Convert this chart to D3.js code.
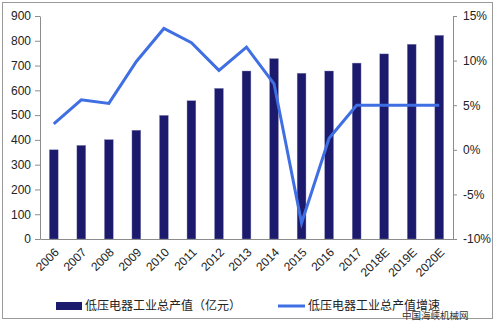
<!DOCTYPE html>
<html>
<head>
<meta charset="utf-8">
<script src="https://cdn.jsdelivr.net/npm/d3@7"></script>
<style>
  html, body { margin: 0; padding: 0; background: #fff; }
  svg { display: block; }
</style>
</head>
<body>
<svg id="chart" width="495" height="322"></svg>
<script>
// Low-voltage electrical output (100M yuan) and its growth rate
const years = ["2006","2007","2008","2009","2010","2011","2012","2013","2014","2015","2016","2017","2018E","2019E","2020E"];
const outputValues = [360, 378, 401, 439, 499, 558, 608, 678, 728, 669, 678, 710, 747, 786, 822];
const growthRates = [2.9, 5.6, 5.2, 9.9, 13.6, 12.0, 8.9, 11.5, 7.4, -8.2, 1.3, 5.0, 5.0, 5.0, 5.0];
const leftTicks = [0, 100, 200, 300, 400, 500, 600, 700, 800, 900];
const rightTicks = [-10, -5, 0, 5, 10, 15];
const barLabel = "低压电器工业总产值（亿元）";
const lineLabel = "低压电器工业总产值增速";
const sourceMark = "中国海峡机械网";

(function draw() {
  const svg = d3.select("#chart");
  const W = 495, H = 322;
  const plotL = 40, plotR = 453, plotT = 16, plotB = 239;
  const barColor = "#1b1a6c";
  const lineColor = "#3f6fe2";
  const axisColor = "#8c8c8c";
  const numFont = "'Liberation Sans', Arial, sans-serif";
  const cjkFont = "'Noto Sans CJK SC', sans-serif";

  // outer frame
  svg.append("rect").attr("x", 2.5).attr("y", 2.5).attr("width", W - 5).attr("height", H - 6)
    .attr("fill", "none").attr("stroke", "#9a9a9a").attr("stroke-width", 1);

  const x = d3.scaleBand().domain(years).range([plotL, plotR]).paddingInner(0.68).paddingOuter(0.34);
  const y = d3.scaleLinear().domain([0, 900]).range([plotB, plotT]);
  const y2 = d3.scaleLinear().domain([-10, 15]).range([plotB, plotT]);

  // bars
  svg.append("g").selectAll("rect").data(years).join("rect")
    .attr("x", d => x(d))
    .attr("width", x.bandwidth())
    .attr("y", (d, i) => y(outputValues[i]))
    .attr("height", (d, i) => plotB - y(outputValues[i]))
    .attr("fill", barColor)
    .attr("stroke", "#8a8ab8").attr("stroke-width", 0.4);

  // growth line
  const line = d3.line()
    .x((d, i) => x(years[i]) + x.bandwidth() / 2)
    .y(d => y2(d));
  svg.append("path").datum(growthRates)
    .attr("d", line).attr("fill", "none")
    .attr("stroke", lineColor).attr("stroke-width", 3).attr("stroke-linejoin", "miter");

  // left axis
  const gl = svg.append("g").attr("transform", `translate(${plotL},0)`)
    .call(d3.axisLeft(y).tickValues(leftTicks).tickSize(5).tickSizeOuter(0).tickPadding(4));
  gl.selectAll("text").attr("font-family", numFont).attr("font-size", 12).attr("fill", "#222");

  // right axis
  const gr = svg.append("g").attr("transform", `translate(${plotR},0)`)
    .call(d3.axisRight(y2).tickValues(rightTicks).tickSize(4).tickSizeOuter(0).tickPadding(6)
      .tickFormat(d => d + "%"));
  gr.selectAll("text").attr("font-family", numFont).attr("font-size", 12).attr("fill", "#222");

  // bottom axis
  const gb = svg.append("g").attr("transform", `translate(0,${plotB})`)
    .call(d3.axisBottom(x).tickSize(0).tickSizeOuter(0).tickPadding(0));
  gb.selectAll("text")
    .attr("font-family", numFont).attr("font-size", 12).attr("fill", "#222")
    .attr("text-anchor", "end")
    .attr("dy", "0.35em")
    .attr("transform", "translate(3,11) rotate(-45)");

  [gl, gr, gb].forEach(g => g.selectAll(".domain, .tick line").attr("stroke", axisColor));

  // legend
  const lg = svg.append("g");
  lg.append("rect").attr("x", 56).attr("y", 302).attr("width", 26).attr("height", 8).attr("fill", barColor);
  lg.append("text").attr("x", 85).attr("y", 310).text(barLabel)
    .attr("font-family", cjkFont).attr("font-size", 12).attr("fill", "#222");
  lg.append("line").attr("x1", 278).attr("x2", 305).attr("y1", 306).attr("y2", 306)
    .attr("stroke", lineColor).attr("stroke-width", 3);
  lg.append("text").attr("x", 308).attr("y", 310).text(lineLabel)
    .attr("font-family", cjkFont).attr("font-size", 12).attr("fill", "#222");

  // source watermark
  svg.append("text").attr("x", 402).attr("y", 319).text(sourceMark)
    .attr("font-family", cjkFont).attr("font-size", 9.5).attr("fill", "#333");
})();
</script>
</body>
</html>
